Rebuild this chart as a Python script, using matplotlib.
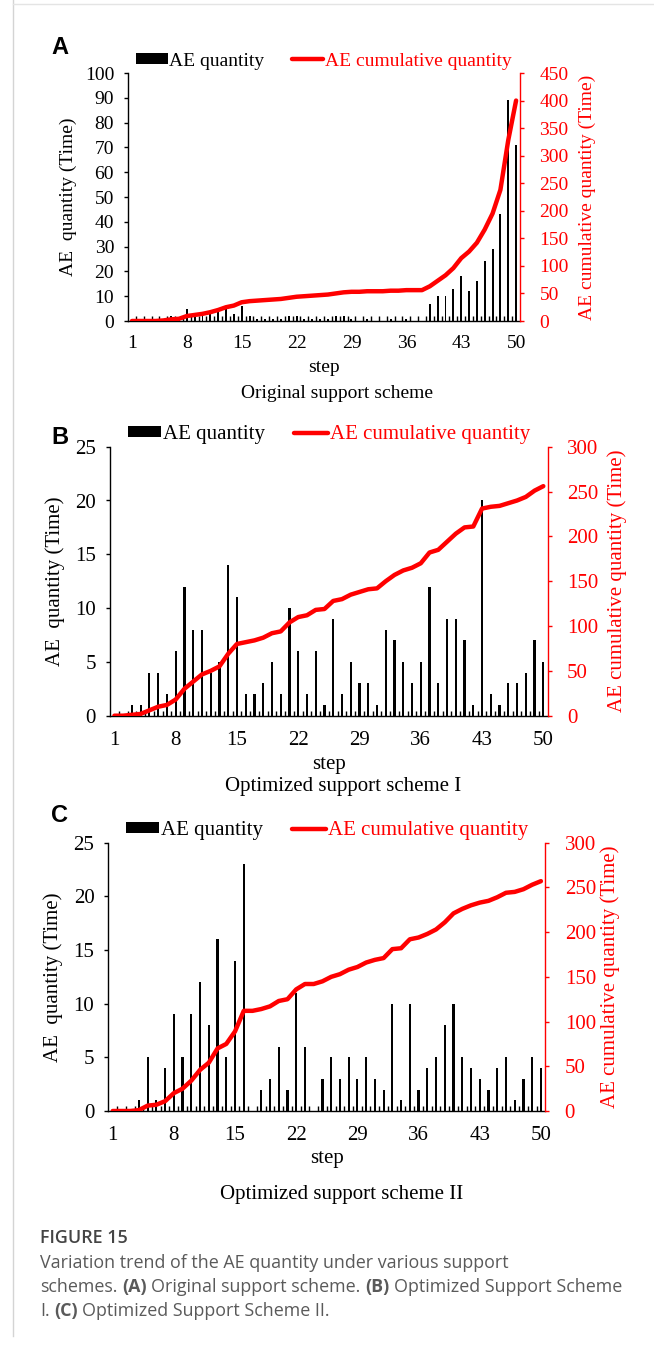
import numpy as np
import matplotlib
matplotlib.use('Agg')
import matplotlib.pyplot as plt
from matplotlib.lines import Line2D

W, H = 654, 1346

steps = np.arange(1, 51)
step_labels = [1, 8, 15, 22, 29, 36, 43, 50]

# AE counts per step and running totals for each support scheme
ae_orig = [0, 0, 0, 0, 1, 2, 1, 5, 2, 2, 3, 4, 5, 3, 6, 2, 1, 1, 1, 1,
           2, 2, 1, 1, 1, 1, 2, 2, 1, 0, 1, 0, 0, 1, 0, 1, 0, 0, 7, 10,
           10, 13, 18, 12, 16, 24, 29, 43, 89, 71]
cum_orig = [0, 0, 0, 0, 1, 3, 4, 9, 11, 13, 16, 20, 25, 28, 34, 36, 37, 38, 39, 40,
            42, 44, 45, 46, 47, 48, 50, 52, 53, 53, 54, 54, 54, 55, 55, 56, 56, 56, 63, 73,
            83, 96, 114, 126, 142, 166, 195, 238, 328, 400]

ae_opt1 = [0, 0, 1, 1, 4, 4, 2, 6, 12, 8, 8, 4, 5, 14, 11, 2, 2, 3, 5, 2,
           10, 6, 2, 6, 1, 9, 2, 5, 3, 3, 1, 8, 7, 5, 3, 5, 12, 3, 9, 9,
           7, 1, 20, 2, 1, 3, 3, 4, 7, 5]
cum_opt1 = [0, 0, 1, 2, 6, 10, 12, 18, 30, 38, 46, 50, 55, 69, 80, 82, 84, 87, 92, 94,
            104, 110, 112, 118, 119, 128, 130, 135, 138, 141, 142, 150, 157, 162, 165, 170, 182, 185, 194, 203,
            210, 211, 231, 233, 234, 237, 240, 244, 251, 256]

ae_opt2 = [0, 0, 0, 1, 5, 1, 4, 9, 5, 9, 12, 8, 16, 5, 14, 23, 0, 2, 3, 6,
           2, 11, 6, 0, 3, 5, 3, 5, 3, 5, 3, 2, 10, 1, 10, 2, 4, 5, 8, 10,
           5, 4, 3, 2, 4, 5, 1, 3, 5, 4]
cum_opt2 = [0, 0, 0, 1, 6, 7, 11, 20, 25, 34, 46, 54, 70, 75, 89, 112, 112, 114, 117, 123,
            125, 136, 142, 142, 145, 150, 153, 158, 161, 166, 169, 171, 181, 182, 192, 194, 198, 203, 211, 221,
            226, 230, 233, 235, 239, 244, 245, 248, 253, 257]

plt.rcParams['font.family'] = ['Liberation Serif', 'DejaVu Serif']

fig = plt.figure(figsize=(W / 100, H / 100), dpi=100)


def fx(px):
    return px / W


def fy(py):
    return 1 - py / H


def panel(box, bars, cum, lmax, lstep, rmax, rstep, fs, letter, letter_pos,
          title, lab_x, step_y, title_pos, tick_pad):
    x0, y0, x1, y1 = box
    w, h = x1 - x0, y1 - y0
    ax = fig.add_axes([fx(x0), fy(y1), w / W, h / H])
    bar_h = ax.bar(steps, bars, width=0.25, color='black')
    ax.set_xlim(0.5, 50.5)
    ax.set_ylim(0, lmax)
    ax.set_yticks(np.arange(0, lmax + 1, lstep))
    ax.set_xticks(step_labels)
    ax.set_xticks(np.arange(1.5, 50, 1), minor=True)
    ax.tick_params(axis='x', which='major', length=0, pad=tick_pad, labelsize=fs)
    ax.tick_params(axis='x', which='minor', direction='in', length=3.8, width=1)
    ax.tick_params(axis='y', length=3, width=1, pad=7, labelsize=fs)
    ax.spines['top'].set_visible(False)
    ax.spines['right'].set_visible(False)
    for s in ['left', 'bottom']:
        ax.spines[s].set_linewidth(1)

    ax2 = ax.twinx()
    line, = ax2.plot(steps, cum, color='red', lw=3.2,
                     solid_capstyle='round', solid_joinstyle='round')
    ax2.set_ylim(0, rmax)
    ax2.set_yticks(np.arange(0, rmax + 1, rstep))
    ax2.tick_params(axis='y', colors='red', length=3, width=1, pad=11, labelsize=fs)
    for s in ['top', 'left', 'bottom']:
        ax2.spines[s].set_visible(False)
    ax2.spines['right'].set_color('red')
    ax2.spines['right'].set_linewidth(1)

    ax2.legend([bar_h, line], ['AE quantity', 'AE cumulative quantity'],
               loc='center', bbox_to_anchor=(0.5, 1 + 12 / h), ncol=2,
               frameon=False, fontsize=fs, labelcolor=['black', 'red'],
               handlelength=1.6, handleheight=0.45, handletextpad=0.1,
               columnspacing=1.4, borderaxespad=0, borderpad=0)

    ax.text((lab_x[0] - x0) / w, 0.5, 'AE  quantity (Time)', rotation=90,
            ha='center', va='center', transform=ax.transAxes, fontsize=fs)
    ax.text((lab_x[1] - x0) / w, 0.5, 'AE cumulative quantity (Time)', rotation=90,
            ha='center', va='center', transform=ax.transAxes, fontsize=fs, color='red')
    ax.text(0.5, 1 - (step_y - y0) / h, 'step', ha='center', va='center',
            transform=ax.transAxes, fontsize=fs)
    ax.text((title_pos[0] - x0) / w, 1 - (title_pos[1] - y0) / h, title,
            ha='center', va='center', transform=ax.transAxes, fontsize=fs)
    fig.text(fx(letter_pos[0]), fy(letter_pos[1]), letter, ha='center', va='center',
             family='Liberation Sans', fontweight='bold', fontsize=17)


panel((128, 73, 520, 321), ae_orig, cum_orig, 100, 10, 450, 50, 14, 'A', (60, 48),
      'Original support scheme', (68, 587), 367, (337, 393), 10)
panel((110, 446.7, 547.7, 715.7), ae_opt1, cum_opt1, 25, 5, 300, 50, 15, 'B', (60, 438),
      'Optimized support scheme I', (55, 617), 765, (343, 787), 11)
panel((108.3, 842.7, 545.3, 1111), ae_opt2, cum_opt2, 25, 5, 300, 50, 15, 'C', (60, 815),
      'Optimized support scheme II', (53, 610), 1158, (342, 1195), 11)

# page frame
fig.add_artist(Line2D([fx(13), fx(13)], [fy(0), fy(1336)], color='#d4d4d4', lw=1))
fig.add_artist(Line2D([fx(13), fx(654)], [fy(4), fy(4)], color='#e4e4e4', lw=1))

# caption
cap_color = '#5a5a5a'
cap_size = 12.9
renderer = fig.canvas.get_renderer()


def runs(x_px, y_px, parts):
    probe = fig.text(0, 0, 'x x', fontsize=cap_size, family='Open Sans')
    probe2 = fig.text(0, 0, 'xx', fontsize=cap_size, family='Open Sans')
    space = probe.get_window_extent(renderer).width - probe2.get_window_extent(renderer).width
    probe.remove()
    probe2.remove()
    x = x_px
    for i, (s, bold) in enumerate(parts):
        if i > 0:
            x += space
        t = fig.text(fx(x), fy(y_px), s, fontsize=cap_size, family='Open Sans',
                     fontweight='bold' if bold else 'normal', color=cap_color,
                     ha='left', va='center')
        x += t.get_window_extent(renderer).width


fig.text(fx(40), fy(1238), 'FIGURE 15', fontsize=cap_size, family='Open Sans',
         fontweight='semibold', color='#444444', ha='left', va='center')
runs(40, 1263, [('Variation trend of the AE quantity under various support', False)])
runs(40, 1287, [('schemes.', False), ('(A)', True), ('Original support scheme.', False),
                ('(B)', True), ('Optimized Support Scheme', False)])
runs(40, 1311, [('I.', False), ('(C)', True), ('Optimized Support Scheme II.', False)])

fig.savefig('out.png', dpi=100)
